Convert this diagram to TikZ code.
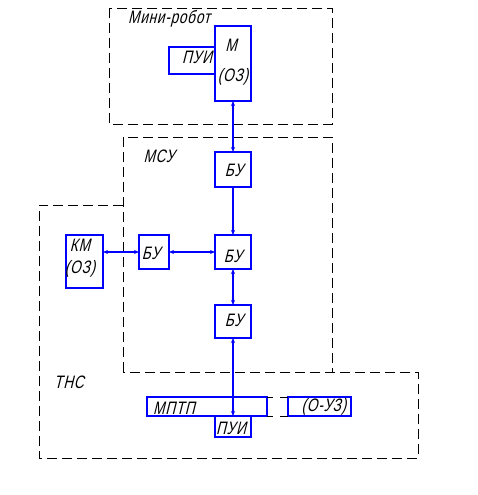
\documentclass[tikz,border=0pt]{standalone}
\usepackage{fontspec}
\newfontfamily\gost{Liberation Sans}[FakeStretch=0.76,FakeSlant=0.25,LetterSpace=4]
\usetikzlibrary{arrows.meta}
\definecolor{cb}{RGB}{0,0,255}
\begin{document}
\begin{tikzpicture}[x=1pt,y=-1pt,
  box/.style={draw=cb,line width=1.15pt,rectangle,inner sep=0pt,outer sep=0pt,anchor=north west},
  txt/.style={font=\gost\fontsize{18}{18}\selectfont,inner sep=0pt},
  zone/.style={draw=black,line width=0.9pt,dash pattern=on 10pt off 5pt},
  link/.style={draw=cb,line width=1.15pt},
  both/.style={link,{Stealth[length=5pt,width=4pt]}-{Stealth[length=5pt,width=4pt]}},
  one/.style={link,-{Stealth[length=5pt,width=4pt]}}]
\fill[white] (0,0) rectangle (477,495);
\useasboundingbox (0,0) rectangle (477,495);
% zones
\draw[zone] (109,8) rectangle (332,124);
\draw[zone] (123,372) -- (123,137) -- (332,137) -- (332,372);
\draw[zone] (123,205) -- (39,205) -- (39,458) -- (418,458) -- (418,372) -- (123,372);
\node[txt,anchor=west] (tmr) at (128,19) {Мини-робот};
\node[txt] (tmsu) at (159,156) {МСУ};
\node[txt] (tths) at (69,382) {ТНС};
% boxes
\node[box,minimum width=46pt,minimum height=27pt] (pui1) at (169,47) {};
\node[box,minimum width=36pt,minimum height=75pt] (m) at (215,26) {};
\node[box,minimum width=36pt,minimum height=35pt] (bu1) at (215,152) {};
\node[box,minimum width=36pt,minimum height=34pt] (bu2) at (215,235) {};
\node[box,minimum width=30pt,minimum height=34pt] (buL) at (139,235) {};
\node[box,minimum width=37pt,minimum height=53pt] (km) at (66,235) {};
\node[box,minimum width=36pt,minimum height=33pt] (bu4) at (215,305) {};
\node[box,minimum width=120pt,minimum height=19pt] (mptp) at (147,397) {};
\node[box,minimum width=63pt,minimum height=19pt] (ouz) at (288,397) {};
% texts
\node[txt] (tpui1) at (197,57) {ПУИ};
\node[txt] (tm) at (231,45) {М};
\node[txt] (toz1) at (233,77) {(ОЗ)};
\node[txt] (tbu1) at (234,170) {БУ};
\node[txt] (tbu2) at (233,256) {БУ};
\node[txt] (tbuL) at (151,253) {БУ};
\node[txt] (tkm) at (80,245) {КМ};
\node[txt] (toz2) at (80,269) {(ОЗ)};
\node[txt] (tbu4) at (234,320) {БУ};
\node[txt,anchor=west] (tmptp) at (153,408) {МПТП};
\node[txt] (touz) at (324,407) {(О-УЗ)};
% black gap lines
\draw[black,line width=0.9pt] (mptp.north east) -- ++(6,0) (ouz.north west) -- ++(-8,0);
\draw[black,line width=0.9pt] (mptp.south east) -- ++(6,0) (ouz.south west) -- ++(-8,0);
% connectors
\draw[both] (m.south) -- (bu1.north);
\draw[one] (bu1.south) -- (bu2.north);
\draw[both] (km.east |- buL.west) -- (buL.west);
\draw[both] (buL.east) -- (bu2.west);
\draw[both] (bu2.south) -- (bu4.north);
\node[box,fill=white,minimum width=36pt,minimum height=21pt] (pui2) at (215,416) {};
\node[txt] (tpui2) at (231,428) {ПУИ};
\draw[both] (bu4.south) -- (pui2.north);
\end{tikzpicture}
\end{document}
